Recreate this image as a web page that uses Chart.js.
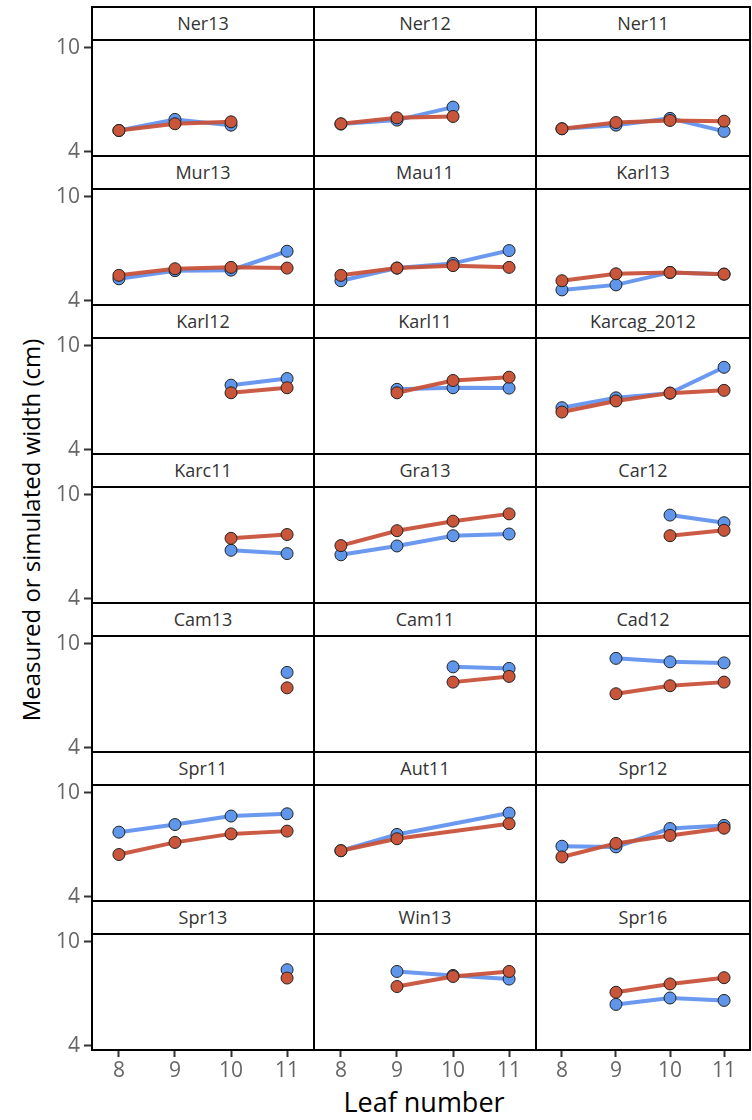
<!DOCTYPE html>
<html>
<head>
<meta charset="utf-8">
<script src="https://cdn.jsdelivr.net/npm/chart.js@4.4.0/dist/chart.umd.min.js"></script>
<style>
  body { margin: 0; background: #fff; }
  #wrap { position: relative; width: 752px; height: 1120px; overflow: hidden; font-family: 'Open Sans', sans-serif; }
  #wrap canvas { position: absolute; }
  .box { position: absolute; border: 2px solid #000; box-sizing: border-box; pointer-events: none; }
  .strip { position: absolute; border: 2px solid #000; box-sizing: border-box; background: #fff;
           text-align: center; color: #333; font-size: 18px; line-height: 30px; }
  .ytitle { position: absolute; left: 30px; top: 530px; transform: translate(-50%, -50%) rotate(-90deg);
            white-space: nowrap; font-size: 24px; color: #000; }
  .xtitle { position: absolute; left: 424px; top: 1101px; transform: translate(-50%, -50%);
            white-space: nowrap; font-size: 27px; color: #000; }
</style>
</head>
<body>
<div id="wrap">
  <div class="ytitle">Measured or simulated width (cm)</div>
  <div class="xtitle">Leaf number</div>
</div>
<script>
// leaf numbers on the x axis
const leafNumbers = [8, 9, 10, 11];
const yTicks = [4, 10];

const panelNames = [
  'Ner13', 'Ner12', 'Ner11',
  'Mur13', 'Mau11', 'Karl13',
  'Karl12', 'Karl11', 'Karcag_2012',
  'Karc11', 'Gra13', 'Car12',
  'Cam13', 'Cam11', 'Cad12',
  'Spr11', 'Aut11', 'Spr12',
  'Spr13', 'Win13', 'Spr16'
];

// blue series, one row per panel, values for leaf 8..11
const measured = [
  [5.23, 5.87, 5.54, null],
  [5.60, 5.83, 6.58, null],
  [5.33, 5.54, 5.93, 5.18],
  [5.27, 5.74, 5.77, 6.86],
  [5.16, 5.89, 6.16, 6.90],
  [4.63, 4.92, 5.64, 5.54],
  [null, null, 7.73, 8.11],
  [null, 7.49, 7.58, 7.56],
  [6.43, 7.00, 7.27, 8.76],
  [null, null, 6.80, 6.61],
  [6.54, 7.05, 7.64, 7.74],
  [null, null, 8.83, 8.39],
  [null, null, null, 8.35],
  [null, null, 8.67, 8.58],
  [null, 9.16, 8.96, 8.90],
  [7.73, 8.17, 8.66, 8.79],
  [6.66, 7.60, null, 8.83],
  [6.92, 6.88, 7.94, 8.12],
  [null, null, null, 8.39],
  [null, 8.29, 8.06, 7.85],
  [null, 6.39, 6.76, 6.62]
];

// red series
const simulated = [
  [5.23, 5.62, 5.73, null],
  [5.62, 5.96, 6.04, null],
  [5.33, 5.69, 5.81, 5.77],
  [5.47, 5.85, 5.93, 5.89],
  [5.47, 5.89, 6.03, 5.93],
  [5.16, 5.56, 5.64, 5.54],
  [null, null, 7.29, 7.58],
  [null, 7.29, 8.00, 8.19],
  [6.18, 6.82, 7.27, 7.43],
  [null, null, 7.49, 7.71],
  [7.07, 7.93, 8.48, 8.90],
  [null, null, 7.64, 7.95],
  [null, null, null, 7.46],
  [null, null, 7.79, 8.12],
  [null, 7.12, 7.58, 7.79],
  [6.44, 7.14, 7.63, 7.79],
  [6.66, 7.35, null, 8.22],
  [6.30, 7.08, 7.54, 7.96],
  [null, null, null, 7.91],
  [null, 7.42, 8.00, 8.29],
  [null, 7.09, 7.57, 7.93]
];

// layout
const colX = [92, 314, 536, 750];
const STRIP = 33, PLOT = 116, PAD = 20, YAXIS_W = 92, XAXIS_H = 45;
const rowTop = r => 7 + r * 149;
const wrap = document.getElementById('wrap');

function toPoints(vals) {
  return leafNumbers.map((x, k) => ({ x: x, y: vals[k] }));
}

function series(label, vals, line, fill) {
  return {
    label: label,
    data: toPoints(vals),
    borderColor: line,
    borderWidth: 4,
    backgroundColor: fill,
    pointBackgroundColor: fill,
    pointBorderColor: '#222',
    pointBorderWidth: 1,
    pointRadius: 6,
    spanGaps: true,
    tension: 0
  };
}

panelNames.forEach((name, i) => {
  const r = Math.floor(i / 3), c = i % 3;
  const plotL = colX[c], plotR = colX[c + 1];
  const plotT = rowTop(r) + STRIP;
  const lastRow = r === 6, firstCol = c === 0;

  const strip = document.createElement('div');
  strip.className = 'strip';
  strip.textContent = name;
  Object.assign(strip.style, {
    left: (plotL - 1) + 'px', top: (rowTop(r) - 1) + 'px',
    width: (plotR - plotL + 2) + 'px', height: (STRIP + 2) + 'px'
  });
  wrap.appendChild(strip);

  const cv = document.createElement('canvas');
  const left = firstCol ? 0 : plotL - PAD;
  const w = plotR + PAD - left;
  const h = PAD + PLOT + (lastRow ? XAXIS_H : PAD);
  cv.width = w; cv.height = h;
  cv.style.left = left + 'px';
  cv.style.top = (plotT - PAD) + 'px';
  wrap.appendChild(cv);

  const box = document.createElement('div');
  box.className = 'box';
  Object.assign(box.style, {
    left: (plotL - 1) + 'px', top: (plotT - 1) + 'px',
    width: (plotR - plotL + 2) + 'px', height: (PLOT + 2) + 'px'
  });
  wrap.appendChild(box);

  new Chart(cv, {
    type: 'line',
    data: {
      datasets: [
        series('Simulated', simulated[i], 'rgba(200,82,58,0.95)', '#c9553b'),
        series('Measured', measured[i], 'rgba(98,148,238,0.95)', '#5f96ea')
      ]
    },
    options: {
      responsive: false,
      animation: false,
      layout: { padding: { left: firstCol ? 0 : PAD, right: PAD, top: PAD, bottom: lastRow ? 0 : PAD } },
      plugins: { legend: { display: false }, tooltip: { enabled: false } },
      scales: {
        x: {
          type: 'linear', min: 7.52, max: 11.48,
          display: lastRow,
          afterFit: s => { if (lastRow) s.height = XAXIS_H; },
          afterBuildTicks: s => { s.ticks = leafNumbers.map(v => ({ value: v })); },
          border: { display: false },
          grid: { drawOnChartArea: false, drawTicks: true, tickLength: 7, tickWidth: 2, tickColor: '#333' },
          ticks: { color: '#666', padding: 1, font: { family: 'Open Sans', size: 21 }, maxRotation: 0 }
        },
        y: {
          min: 3.76, max: 10.45,
          display: firstCol,
          afterFit: s => { if (firstCol) s.width = YAXIS_W; },
          afterBuildTicks: s => { s.ticks = yTicks.map(v => ({ value: v })); },
          border: { display: false },
          grid: { drawOnChartArea: false, drawTicks: true, tickLength: 8, tickWidth: 2, tickColor: '#333' },
          ticks: { color: '#666', padding: 4, font: { family: 'Open Sans', size: 21 } }
        }
      }
    }
  });
});
</script>
</body>
</html>
